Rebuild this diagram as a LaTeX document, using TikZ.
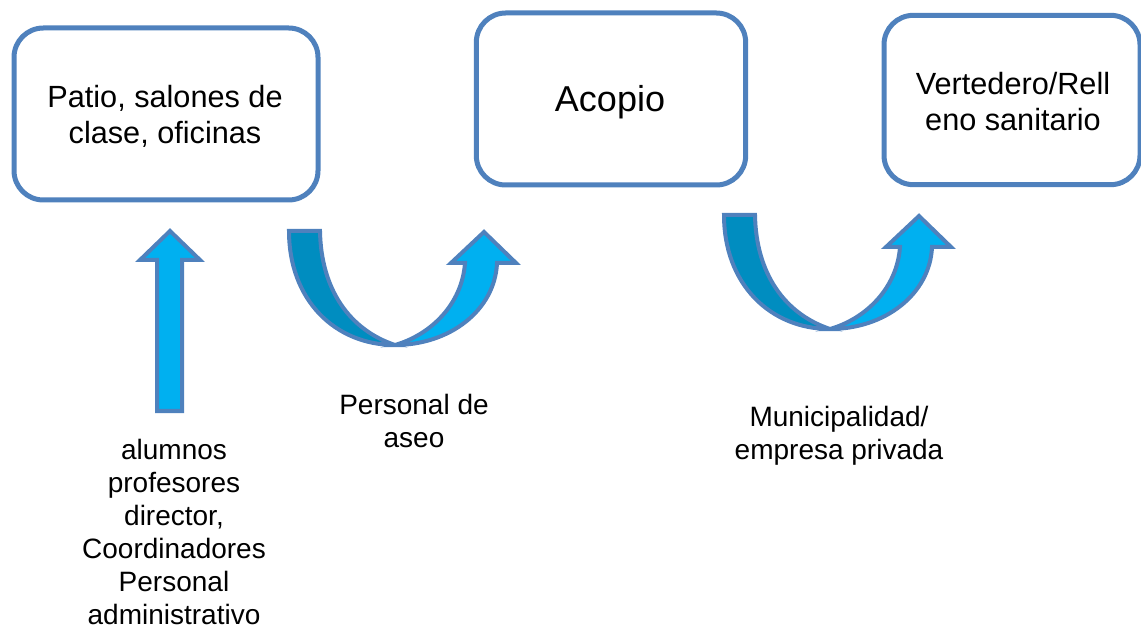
\documentclass[tikz,border=0pt]{standalone}
\usepackage{fontspec}
\setmainfont{Liberation Sans}
\definecolor{edgeblue}{RGB}{79,129,189}
\definecolor{lightfill}{RGB}{0,176,240}
\definecolor{darkfill}{RGB}{0,141,192}
\begin{document}
\begin{tikzpicture}[x=0.75pt,y=-0.75pt,
  placebox/.style={draw=edgeblue,line width=3.75pt,rounded corners=22pt,fill=white,inner sep=0pt},
  boxtext/.style={align=center,font=\fontsize{23}{27}\selectfont},
  labeltext/.style={align=center,font=\fontsize{21}{24.75}\selectfont},
  arrowshape/.style={draw=edgeblue,line width=3pt,line join=miter}]
\useasboundingbox (0,0) rectangle (1141,630);
% boxes
\node[placebox,minimum width=228pt,minimum height=129pt] (patio) at (166,114) {};
\node[boxtext] (patiot) at (165,116) {Patio, salones de\\clase, oficinas};
\node[placebox,minimum width=202pt,minimum height=129pt] (acopio) at (611,99) {};
\node[font=\fontsize{27}{32}\selectfont] (acopiot) at (610,102) {Acopio};
\node[placebox,minimum width=192pt,minimum height=127pt] (vert) at (1012,100) {};
\node[boxtext] (vertt) at (1013,102) {Vertedero/Rell\\eno sanitario};
% up arrow
\path[arrowshape,fill=lightfill] (157,411) -- (157,260) -- (140,260) -- (170,231) -- (200,260) -- (182,260) -- (182,411) -- cycle;
% curved arrows
\foreach \dx/\dy in {0/0,435/-16}{
\begin{scope}[shift={(\dx,\dy)}]
\path[arrowshape,fill=darkfill] (289,231) .. controls (289,300) and (335,345) .. (395,345) .. controls (350,330) and (321,290) .. (320,231) -- cycle;
\path[arrowshape,fill=lightfill] (395,345) .. controls (450,345) and (495,310) .. (497,263) -- (516,263) -- (484,232) -- (451,263) -- (465,263) .. controls (462,305) and (430,335) .. (395,345) -- cycle;
\end{scope}}
% labels
\node[labeltext] (aseo) at (414,421) {Personal de\\aseo};
\node[labeltext] (muni) at (839,436) {Municipalidad/\\empresa privada};
\node[labeltext] (people) at (174,532) {alumnos\\profesores\\director,\\Coordinadores\\Personal\\administrativo};
\end{tikzpicture}
\end{document}
